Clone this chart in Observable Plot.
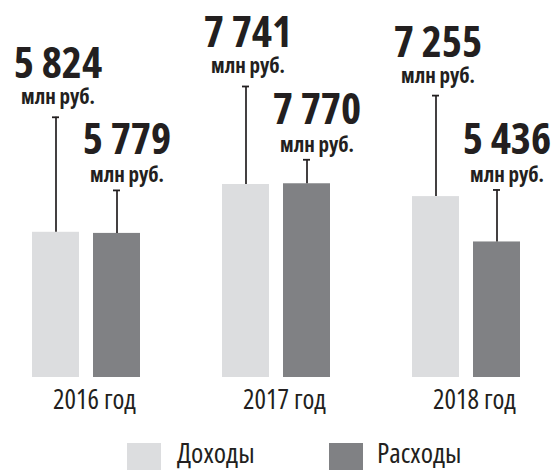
<!DOCTYPE html>
<html>
<head>
<meta charset="utf-8">
<script src="https://cdn.jsdelivr.net/npm/d3@7"></script>
<script src="https://cdn.jsdelivr.net/npm/@observablehq/plot@0.6"></script>
<style>
  html, body { margin: 0; padding: 0; background: #fff; }
  body { width: 559px; height: 470px; overflow: hidden; font-family: "Open Sans", sans-serif; font-stretch: condensed; color: #231f20; }
  svg { display: block; }
</style>
</head>
<body>
<div id="chart"></div>
<div id="legend"></div>
<script>
// ---- data ----
const years = ["2016", "2017", "2018"];
const series = ["Доходы", "Расходы"];
const income = [5824, 7741, 7255];
const expense = [5779, 7770, 5436];
const unitLabel = "млн руб.";
const yearSuffix = " год";

// ---- layout / style ----
const colors = ["#dcdddf", "#808184"];
const ink = "#231f20";
const leaderPx = { "Доходы": [115, 98, 101], "Расходы": [43, 24, 52] };
const labelStyle = {
  "Доходы": { dx: 2, numDy: -39, unitDy: -13 },
  "Расходы": { dx: 10, numDy: -36, unitDy: -8 }
};
const H = 432, MB = 55, MT = 0;
const yMax = 15120;
const plotH = H - MB - MT;
const pxToVal = yMax / plotH;
const fontCss = "font-family: 'Open Sans', sans-serif; font-stretch: condensed;";

const fmt = d3.formatLocale({ decimal: ",", thousands: "\u00a0", grouping: [3], currency: ["", ""] }).format(",d");

const values = { "Доходы": income, "Расходы": expense };
const data = years.flatMap((yr, i) => series.map(s => ({
  year: yr, series: s, value: values[s][i],
  top: values[s][i] + leaderPx[s][i] * pxToVal
})));

const labelMarks = series.flatMap(s => {
  const sub = data.filter(d => d.series === s);
  const st = labelStyle[s];
  return [
    Plot.text(sub, { fx: "year", x: "series", y: "top", text: d => fmt(d.value), lineAnchor: "bottom",
      dy: st.numDy, dx: st.dx, fontSize: 43, fontWeight: "bold", fill: ink }),
    Plot.text(sub, { fx: "year", x: "series", y: "top", text: () => unitLabel, lineAnchor: "bottom",
      dy: st.unitDy, dx: st.dx, fontSize: 21, fontWeight: "bold", fill: ink })
  ];
});

const chart = Plot.plot({
  width: 559,
  height: H,
  marginTop: MT,
  marginBottom: MB,
  marginLeft: 31,
  marginRight: 38,
  style: fontCss + " color: " + ink + "; background: #fff; overflow: visible;",
  fx: { domain: years, paddingInner: 0.4211, paddingOuter: 0 },
  x: { domain: series, paddingInner: 0.2258, paddingOuter: 0, axis: null },
  y: { domain: [0, yMax], axis: null },
  color: { domain: series, range: colors },
  marks: [
    Plot.barY(data, { fx: "year", x: "series", y: "value", fill: "series" }),
    Plot.ruleX(data, { fx: "year", x: "series", y1: "value", y2: "top", stroke: ink, strokeWidth: 1.7 }),
    Plot.tickY(data, { fx: "year", x: "series", y: "top", stroke: ink, strokeWidth: 1.8, insetLeft: 20, insetRight: 20 }),
    ...labelMarks,
    Plot.axisFx({ anchor: "bottom", tickSize: 0, tickPadding: 12, fontSize: 27, dx: 8, tickFormat: d => d + yearSuffix, label: null, fill: ink })
  ]
});
document.getElementById("chart").appendChild(chart);

// legend (below the plot SVG)
const legPos = [[127, 177], [329, 377]];
const leg = d3.select("#legend").append("svg").attr("width", 559).attr("height", 38)
  .attr("style", fontCss);
series.forEach((s, i) => {
  leg.append("rect").attr("x", legPos[i][0]).attr("y", 11).attr("width", 34).attr("height", 30).attr("fill", colors[i]);
  leg.append("text").attr("x", legPos[i][1]).attr("y", 31).attr("font-size", 28).attr("fill", ink).text(s);
});
</script>
</body>
</html>
